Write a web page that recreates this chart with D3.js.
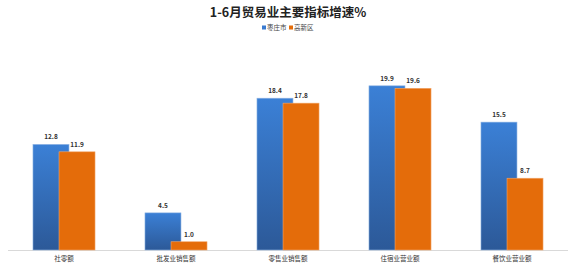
<!DOCTYPE html>
<html>
<head>
<meta charset="utf-8">
<script src="https://cdn.jsdelivr.net/npm/d3@7"></script>
<style>
  body { margin: 0; background: #fff; }
  text { font-family: "Noto Sans CJK SC", "Noto Sans", sans-serif; }
</style>
</head>
<body>
<div id="chart"></div>
<script>
var categories = ['社零额', '批发业销售额', '零售业销售额', '住宿业营业额', '餐饮业营业额']
var seriesNames = ['枣庄市', '高新区']
var zaozhuang = [12.8, 4.5, 18.4, 19.9, 15.5]
var gaoxin = [11.9, 1.0, 17.8, 19.6, 8.7]

var width = 576, height = 268

var svg = d3.select('#chart')
    .append('svg')
    .attr('width', width)
    .attr('height', height)

// blue gradient like the excel bars
var defs = svg.append('defs')
var grad = defs.append('linearGradient')
    .attr('id', 'blueGrad')
    .attr('x1', 0).attr('y1', 0)
    .attr('x2', 0).attr('y2', 1)
grad.append('stop').attr('offset', '0%').attr('stop-color', '#3b80d6')
grad.append('stop').attr('offset', '100%').attr('stop-color', '#2c5998')

var colors = ['url(#blueGrad)', '#e46c0a']
var legendColors = ['#3a7bd0', '#e46c0a']

var x0 = d3.scaleBand()
    .domain(categories)
    .range([8, 568])
    .paddingInner(0.446)
    .paddingOuter(0.223)

var barW = 36
var x1 = d3.scaleOrdinal()
    .domain(seriesNames)
    .range([0, x0.bandwidth() - barW])

var y = d3.scaleLinear()
    .domain([0, 20])
    .range([250, 85])

// title
svg.append('text')
    .attr('x', 288)
    .attr('y', 17)
    .attr('text-anchor', 'middle')
    .attr('font-size', 12.5)
    .attr('font-weight', 'bold')
    .attr('fill', '#222')
    .text('1-6月贸易业主要指标增速%')

// legend
var legend = svg.append('g').attr('transform', 'translate(262,30)')
seriesNames.forEach(function(s, i) {
    var lg = legend.append('g').attr('transform', 'translate(' + (i * 27) + ',0)')
    lg.append('rect')
        .attr('x', 0).attr('y', -4.5)
        .attr('width', 4).attr('height', 4)
        .attr('fill', legendColors[i])
    lg.append('text')
        .attr('x', 5).attr('y', 0)
        .attr('font-size', 6.5)
        .attr('fill', '#444')
        .text(s)
})

// baseline
svg.append('line')
    .attr('x1', 8).attr('x2', 568)
    .attr('y1', y(0) + 0.5).attr('y2', y(0) + 0.5)
    .attr('stroke', '#d9d9d9')
    .attr('stroke-width', 1)

var rows = categories.map(function(c, i) {
    return { cat: c, values: [zaozhuang[i], gaoxin[i]] }
})

var groups = svg.selectAll('g.cat')
    .data(rows)
    .enter()
    .append('g')
    .attr('class', 'cat')
    .attr('transform', function(d) { return 'translate(' + x0(d.cat) + ',0)' })

groups.selectAll('rect')
    .data(function(d) {
        return d.values.map(function(v, i) { return { s: seriesNames[i], v: v, i: i } })
    })
    .enter()
    .append('rect')
    .attr('x', function(d) { return x1(d.s) })
    .attr('y', function(d) { return y(d.v) })
    .attr('width', barW)
    .attr('height', function(d) { return y(0) - y(d.v) })
    .attr('fill', function(d) { return colors[d.i] })
    .attr('stroke', function(d) { return d.i === 0 ? '#8fb4e3' : '#f2a76b' })
    .attr('stroke-width', 0.6)

groups.selectAll('text.val')
    .data(function(d) {
        return d.values.map(function(v, i) { return { s: seriesNames[i], v: v, i: i } })
    })
    .enter()
    .append('text')
    .attr('class', 'val')
    .attr('x', function(d) { return x1(d.s) + barW / 2 })
    .attr('y', function(d) { return y(d.v) - 5 })
    .attr('text-anchor', 'middle')
    .attr('font-size', 6.5)
    .attr('font-weight', 'bold')
    .attr('fill', '#333')
    .text(function(d) { return d.v.toFixed(1) })

// category labels
svg.selectAll('text.cat')
    .data(categories)
    .enter()
    .append('text')
    .attr('class', 'cat')
    .attr('x', function(d) { return x0(d) + x0.bandwidth() / 2 })
    .attr('y', 261)
    .attr('text-anchor', 'middle')
    .attr('font-size', 6.5)
    .attr('fill', '#333')
    .text(function(d) { return d })
</script>
</body>
</html>
